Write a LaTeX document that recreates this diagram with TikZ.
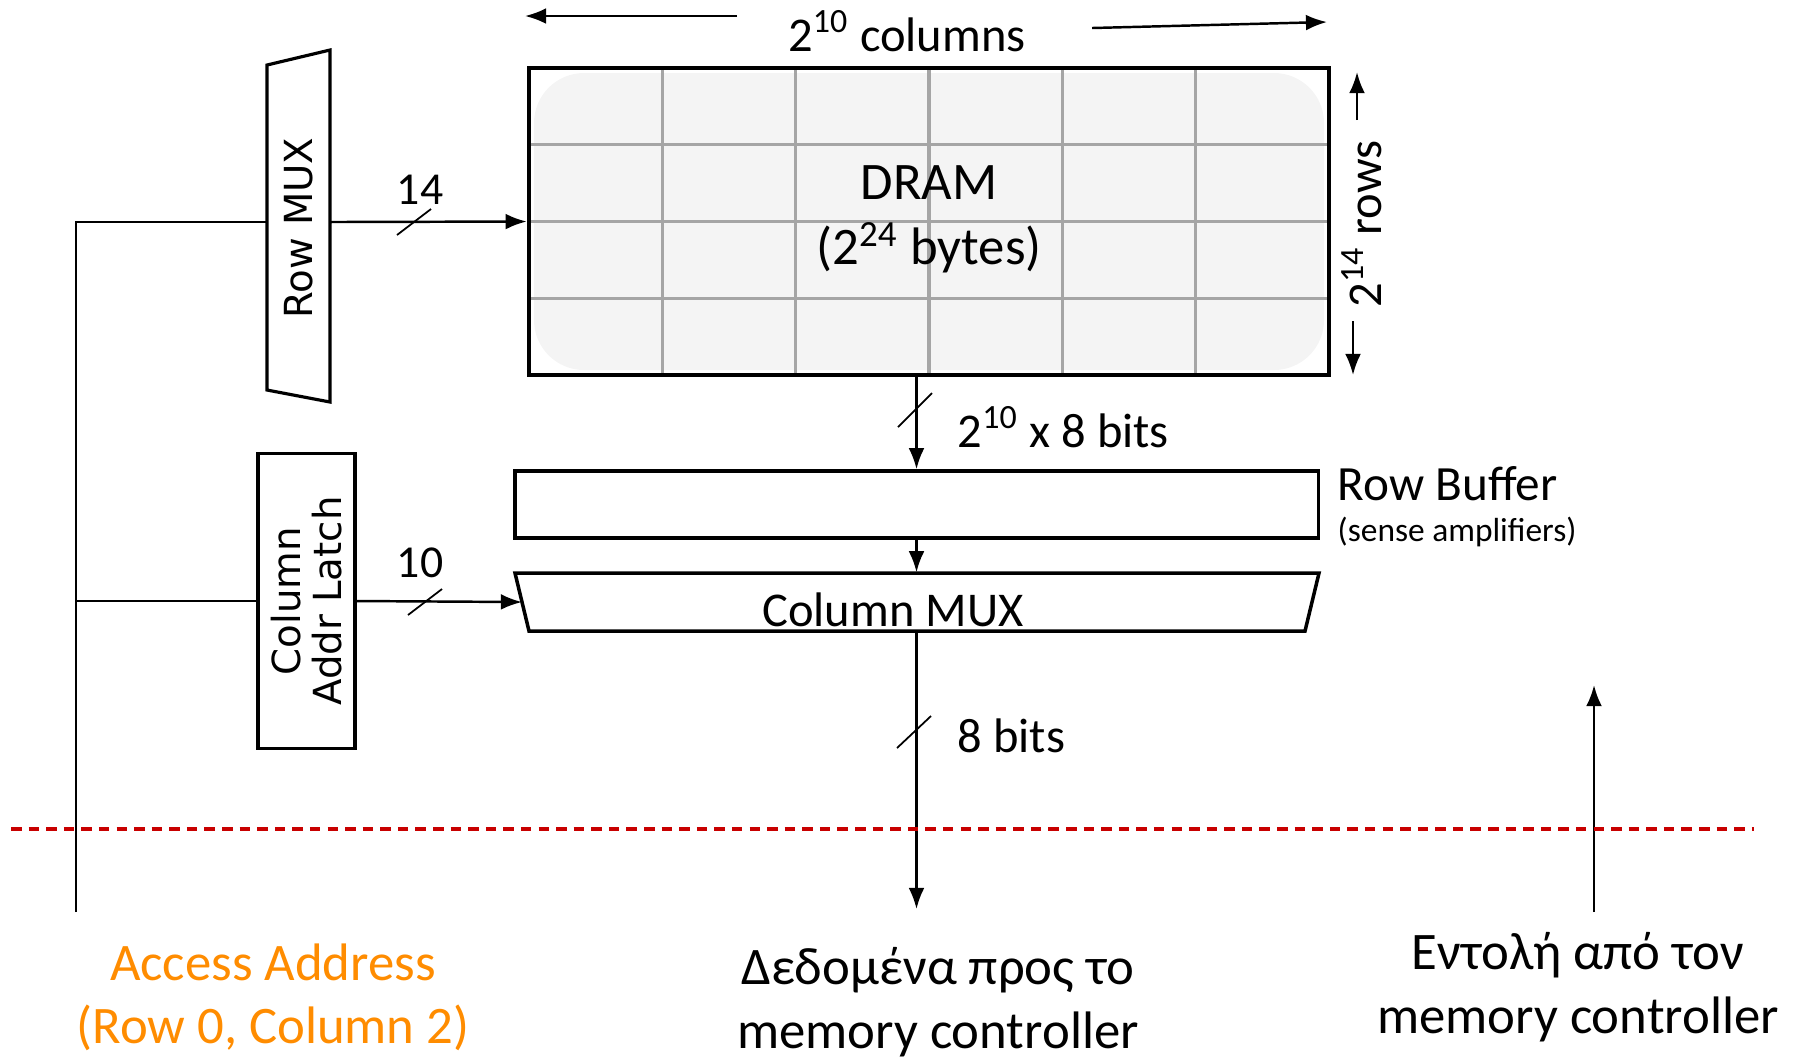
\documentclass[tikz,border=0pt]{standalone}
\usepackage{fontspec}
\setmainfont{Carlito}
\newfontfamily\muxfont{DejaVu Sans}
\usetikzlibrary{arrows.meta}
\definecolor{addrorange}{RGB}{255,140,0}
\definecolor{gridgray}{RGB}{165,165,165}
\definecolor{cellfill}{RGB}{244,244,244}
\definecolor{cutred}{RGB}{200,0,0}
\tikzset{
  wire/.style={line width=.7pt, -{Latex[length=6pt,width=4.5pt]}},
  plain/.style={line width=.7pt},
  slash/.style={line width=.5pt},
  lbl/.style={font=\fontsize{15}{18}\selectfont, inner sep=0pt},
  mid/.style={font=\fontsize{13.8}{16}\selectfont, inner sep=0pt},
  small/.style={font=\fontsize{13}{15}\selectfont, inner sep=0pt},
  box/.style={draw, line width=1pt, inner sep=0pt},
  muxtext/.style={rotate=90, align=center, inner sep=0pt, font=\muxfont\fontsize{11}{11.5}\selectfont},
}
\begin{document}
\begin{tikzpicture}[x=.01cm, y=-.01cm]
\useasboundingbox (0,0) rectangle (1798,1056);

% DRAM array
\fill[cellfill, rounded corners=.5cm] (534,73) rectangle (1324,370);
\foreach \col in {1,...,5}{
    \draw[gridgray, line width=.9pt] (529+\col*133.3,68) -- (529+\col*133.3,375);
  }
\foreach \row in {1,2,3}{
    \draw[gridgray, line width=.9pt] (529,68+\row*76.75) -- (1329,68+\row*76.75);
  }
\node[box, line width=1.2pt, minimum width=8cm, minimum height=3.07cm] (dram) at (929,221.5) {};
\node[lbl] (dramname) at (929,183) {DRAM};
\node[lbl] (dramsize) at (929,248) {(2\textsuperscript{24} bytes)};

\node[mid] (colcount) at (907,31) {2\textsuperscript{10} columns};
\coordinate (colleftfrom) at (737,16);
\coordinate (colleftto) at (525,16);
\coordinate (colrightfrom) at (1092,28);
\coordinate (colrightto) at (1327,22);
\draw[wire] (colleftfrom) -- (colleftto);
\draw[wire] (colrightfrom) -- (colrightto);

\node[mid, rotate=90] (rowcount) at (1362,224) {2\textsuperscript{14} rows};
\coordinate (rowupfrom) at (1357,120);
\coordinate (rowupto) at (1357,72);
\coordinate (rowdownfrom) at (1353,321);
\coordinate (rowdownto) at (1353,375);
\draw[wire] (rowupfrom) -- (rowupto);
\draw[wire] (rowdownfrom) -- (rowdownto);

% row mux and column latch
\draw[line width=.9pt] (267,65) -- (330,50) -- (330,402) -- (267,390) -- cycle;
\node[minimum width=.63cm, minimum height=3.3cm, inner sep=0pt] (rowmux) at (298.5,222) {};
\node[muxtext] at (298.5,228) {Row MUX};

\node[box, line width=.9pt, minimum width=.97cm, minimum height=2.95cm] (latch) at (306.5,601) {};
\node[muxtext] at (latch) {Column\\Addr Latch};

% row buffer and column mux
\node[box, minimum width=8.03cm, minimum height=.67cm] (rowbuf) at (916.5,504.5) {};
\node[lbl, anchor=west, font=\fontsize{14}{16}\selectfont] (rowbuflbl) at (1337,484) {Row Buffer};
\node[anchor=west, inner sep=0pt, font=\fontsize{9.5}{11}\selectfont] (senselbl) at (1337,532) {(sense amplifiers)};

\draw[line width=1pt] (515,573) -- (1319,573) -- (1305,631) -- (529,631) -- cycle;
\node[minimum width=8.04cm, minimum height=.58cm, inner sep=0pt] (colmux) at (916.5,602) {};
\node[mid] (colmuxlbl) at (893,610) {Column MUX};
\coordinate (colmuxin) at (522,602);

% address bus
\coordinate (busend) at (76,912);
\draw[plain] (busend) |- (rowmux.west);
\draw[plain] (busend |- latch.west) -- (latch.west);

\draw[wire] (rowmux.east) -- (dram.west);
\draw[slash] (397,235) -- (431,209);
\node[small] (rowbits) at (420,190) {14};

\draw[wire] (latch.east) -- (colmuxin);
\draw[slash] (408,615) -- (442,589);
\node[small] (colbits) at (420,563) {10};

% data path
\draw[wire] (dram.south -| rowbuf.north) -- (rowbuf.north);
\draw[slash] (898,427) -- (932,393);
\node[mid, anchor=west] (rowwidth) at (957,427) {2\textsuperscript{10} x 8 bits};

\draw[wire] (rowbuf.south) -- (colmux.north);

\coordinate (dataout) at (916.5,909);
\draw[wire] (colmux.south) -- (dataout);
\draw[slash] (897,748) -- (931,716);
\node[mid, anchor=west] (outwidth) at (957,736) {8 bits};

\coordinate (cmdfrom) at (1594,912);
\coordinate (cmdto) at (1594,685);
\draw[wire] (cmdfrom) -- (cmdto);

% chip boundary
\draw[cutred, line width=1pt, dash pattern=on 3pt off 2pt] (11,829) -- (1754,829);

\node[lbl, addrorange, align=center] (addr) at (273,997) {Access Address\\(Row 0, Column 2)};
\node[lbl, align=center] (datadest) at (938,1002) {Δεδομένα προς το\\memory controller};
\node[lbl, align=center] (cmdsrc) at (1578,987) {Εντολή από τον\\memory controller};
\end{tikzpicture}
\end{document}
